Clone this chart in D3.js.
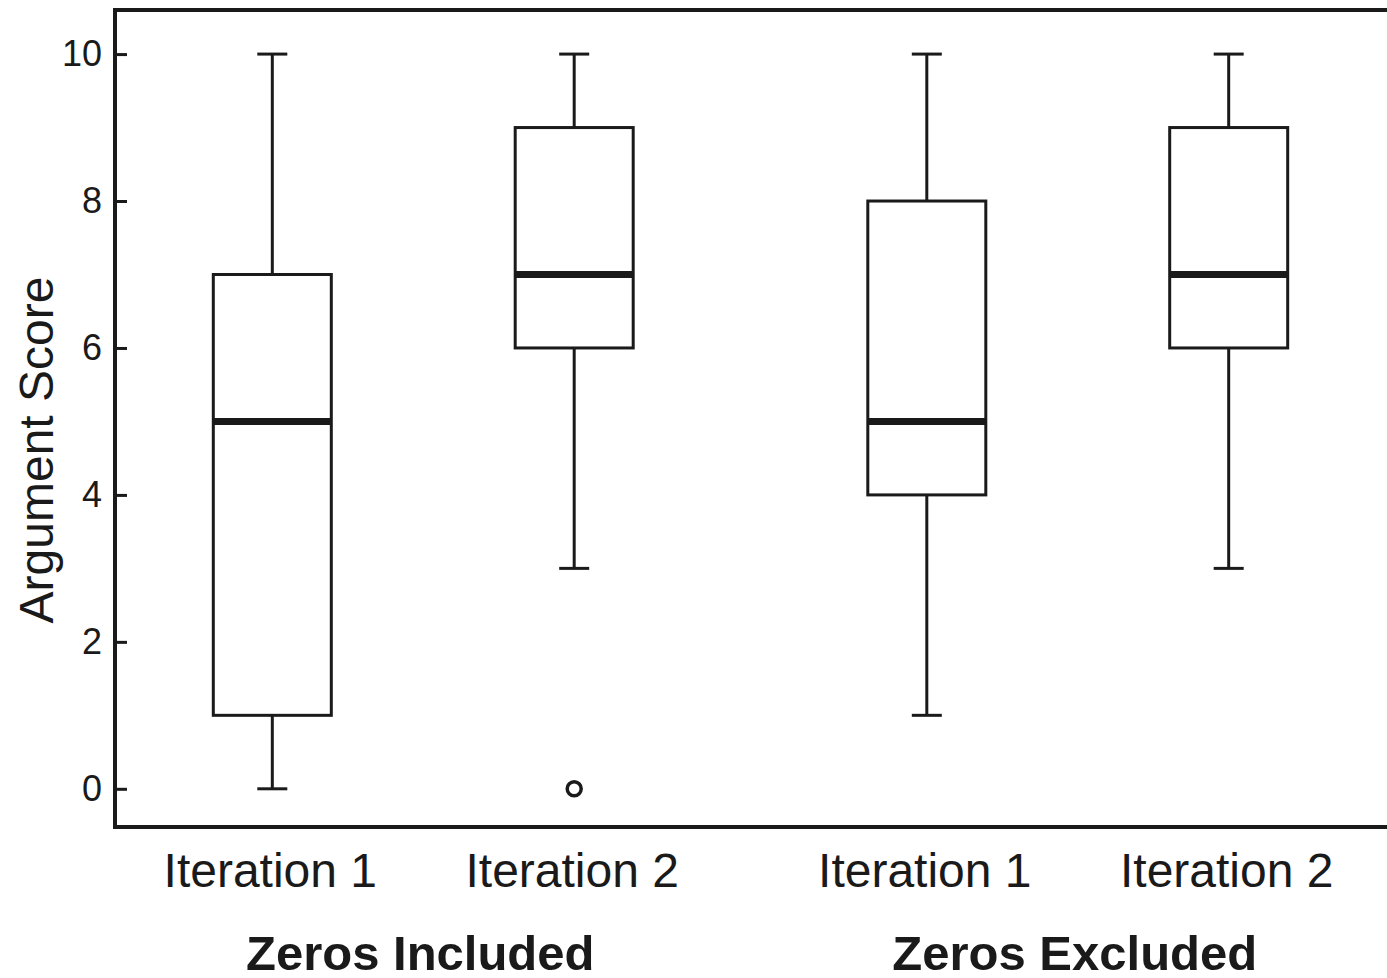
<!DOCTYPE html>
<html lang="en">
<head>
    <meta charset="UTF-8">
    <title>Argument Score</title>
    <script src="https://d3js.org/d3.v7.min.js"></script>
    <style>
        body { margin: 0; background: #fff; }
        text { font-family: "Liberation Sans", Arial, sans-serif; fill: #1a1a1a; }
    </style>
</head>
<body>
    <div id="chart"></div>
    <script>
        // data
        var groups = ["Zeros Included", "Zeros Excluded"];
        var iterations = ["Iteration 1", "Iteration 2"];
        var mins = [0, 3, 1, 3];
        var q1s = [1, 6, 4, 6];
        var medians = [5, 7, 5, 7];
        var q3s = [7, 9, 8, 9];
        var maxs = [10, 10, 10, 10];
        var outliers = [[], [0], [], []];
        var yTicks = [0, 2, 4, 6, 8, 10];

        var w = 1387, h = 978;
        var plotLeft = 115, plotTop = 10, plotBottom = 827;

        var svg = d3.select("#chart").append("svg")
            .attr("width", w)
            .attr("height", h);

        var y = d3.scaleLinear().domain([-0.52, 10.6]).range([plotBottom, plotTop]);

        var xGroup = d3.scaleBand().domain(groups).range([96, 1405]);
        var xIter = d3.scalePoint().domain(iterations)
            .range([0, xGroup.bandwidth()]).padding(0.584);

        // flat list of boxes
        var boxes = [];
        groups.forEach(function(g, gi) {
            iterations.forEach(function(it, ii) {
                var k = gi * 2 + ii;
                boxes.push({
                    group: g, iter: it,
                    min: mins[k], q1: q1s[k], med: medians[k], q3: q3s[k], max: maxs[k],
                    out: outliers[k]
                });
            });
        });
        function cx(d) { return xGroup(d.group) + xIter(d.iter); }

        var boxW = 118, capW = 30;
        var ink = "#1a1a1a";

        // y axis, ticks pointing inward
        var yAxis = d3.axisLeft(y).tickValues(yTicks).tickSize(-12).tickPadding(13);
        var gy = svg.append("g").attr("transform", "translate(" + plotLeft + ",0)").call(yAxis);
        gy.select(".domain").remove();
        gy.selectAll(".tick line").attr("stroke", ink).attr("stroke-width", 3);
        gy.selectAll(".tick text").style("font-size", "36px").attr("fill", ink);

        // frame: left, top, bottom
        svg.append("path")
            .attr("d", "M" + (w + 5) + "," + plotTop + "H" + plotLeft + "V" + plotBottom + "H" + (w + 5))
            .attr("fill", "none").attr("stroke", ink).attr("stroke-width", 4);

        var b = svg.append("g").selectAll("g").data(boxes).enter().append("g");

        // whiskers
        b.append("line")
            .attr("x1", cx).attr("x2", cx)
            .attr("y1", function(d) { return y(d.min); })
            .attr("y2", function(d) { return y(d.q1); })
            .attr("stroke", ink).attr("stroke-width", 3);
        b.append("line")
            .attr("x1", cx).attr("x2", cx)
            .attr("y1", function(d) { return y(d.q3); })
            .attr("y2", function(d) { return y(d.max); })
            .attr("stroke", ink).attr("stroke-width", 3);
        // caps
        b.selectAll(".cap").data(function(d) { return [[d, d.min], [d, d.max]]; })
            .enter().append("line").attr("class", "cap")
            .attr("x1", function(p) { return cx(p[0]) - capW / 2; })
            .attr("x2", function(p) { return cx(p[0]) + capW / 2; })
            .attr("y1", function(p) { return y(p[1]); })
            .attr("y2", function(p) { return y(p[1]); })
            .attr("stroke", ink).attr("stroke-width", 3);
        // box
        b.append("rect")
            .attr("x", function(d) { return cx(d) - boxW / 2; })
            .attr("y", function(d) { return y(d.q3); })
            .attr("width", boxW)
            .attr("height", function(d) { return y(d.q1) - y(d.q3); })
            .attr("fill", "#fff").attr("stroke", ink).attr("stroke-width", 3);
        // median
        b.append("line")
            .attr("x1", function(d) { return cx(d) - boxW / 2; })
            .attr("x2", function(d) { return cx(d) + boxW / 2; })
            .attr("y1", function(d) { return y(d.med); })
            .attr("y2", function(d) { return y(d.med); })
            .attr("stroke", ink).attr("stroke-width", 7);
        // outliers
        b.selectAll("circle").data(function(d) { return d.out.map(function(v) { return [d, v]; }); })
            .enter().append("circle")
            .attr("cx", function(p) { return cx(p[0]); })
            .attr("cy", function(p) { return y(p[1]); })
            .attr("r", 7)
            .attr("fill", "#fff").attr("stroke", ink).attr("stroke-width", 3.5);

        // x labels
        svg.append("g").selectAll("text").data(boxes).enter().append("text")
            .attr("x", function(d) { return cx(d) - 2; })
            .attr("y", 887)
            .attr("text-anchor", "middle")
            .style("font-size", "48px")
            .text(function(d) { return d.iter; });

        svg.append("g").selectAll("text").data(groups).enter().append("text")
            .attr("x", function(d) { return xGroup(d) + xGroup.bandwidth() / 2 - 3; })
            .attr("y", 970)
            .attr("text-anchor", "middle")
            .style("font-size", "49px")
            .style("font-weight", "bold")
            .text(function(d) { return d; });

        svg.append("text")
            .attr("transform", "translate(53,450) rotate(-90)")
            .attr("text-anchor", "middle")
            .style("font-size", "48px")
            .text("Argument Score");
    </script>
</body>
</html>
